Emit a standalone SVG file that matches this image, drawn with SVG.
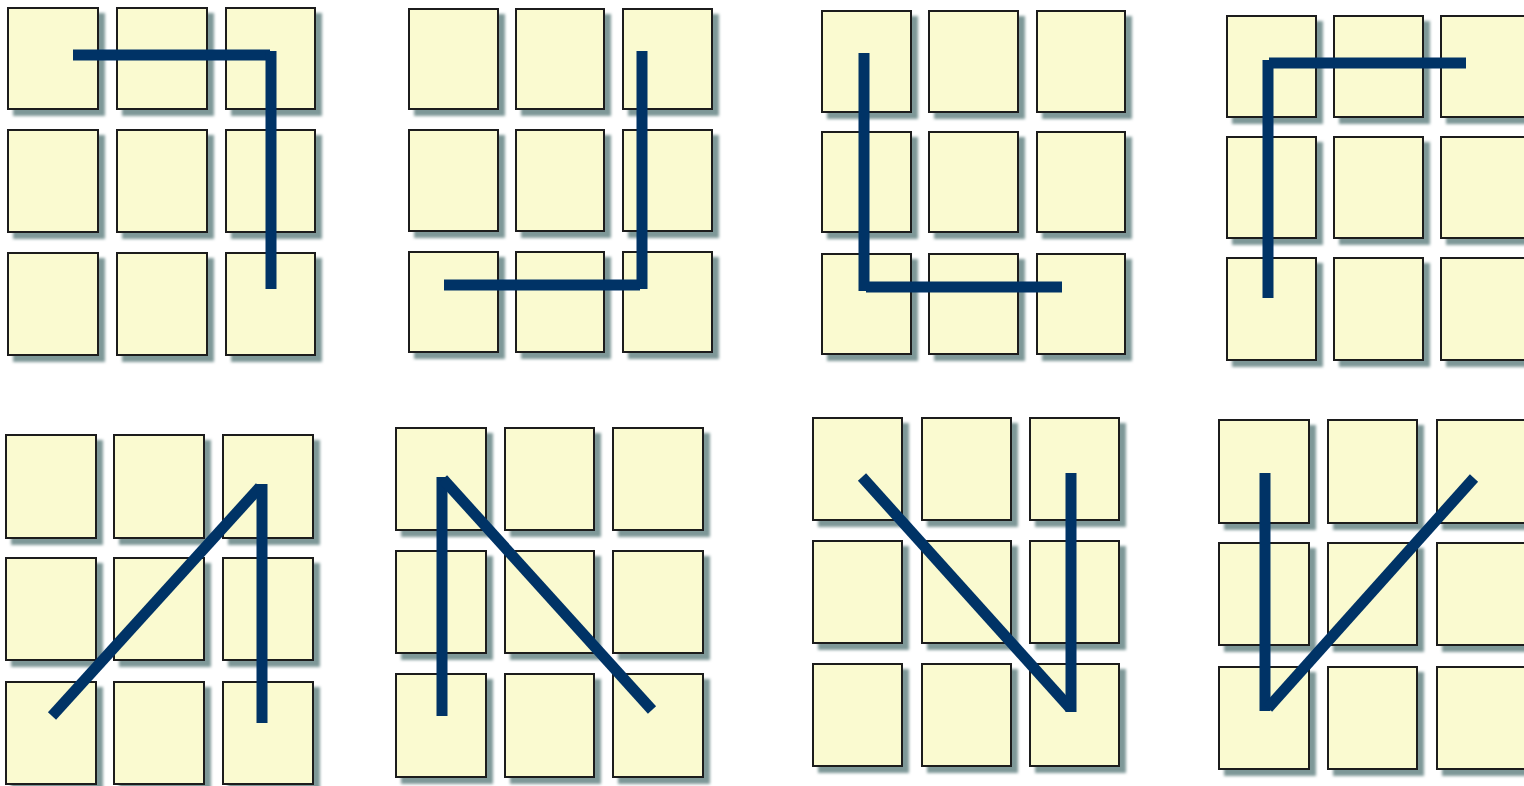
<svg xmlns="http://www.w3.org/2000/svg" width="1524" height="786" viewBox="0 0 1524 786">
<style>
.b{fill:#fafad0;stroke:#1a1a1a;stroke-width:2;filter:url(#sh)}
.p{fill:none;stroke:#003366;stroke-width:11;stroke-linecap:butt;stroke-linejoin:miter}
</style>
<defs>
<filter id="sh" x="-20%" y="-20%" width="150%" height="150%">
<feOffset in="SourceAlpha" dx="6" dy="6" result="o"/>
<feGaussianBlur in="o" stdDeviation="1.5" result="bl"/>
<feFlood flood-color="#7e9898"/>
<feComposite in2="bl" operator="in" result="s"/>
<feMerge><feMergeNode in="s"/><feMergeNode in="SourceGraphic"/></feMerge>
</filter>
</defs>
<rect width="1524" height="786" fill="#ffffff"/>
<g id="panel1">
<rect class="b" x="8" y="8" width="90" height="101"/><rect class="b" x="117" y="8" width="90" height="101"/><rect class="b" x="226" y="8" width="89" height="101"/>
<rect class="b" x="8" y="130" width="90" height="102"/><rect class="b" x="117" y="130" width="90" height="102"/><rect class="b" x="226" y="130" width="89" height="102"/>
<rect class="b" x="8" y="253" width="90" height="102"/><rect class="b" x="117" y="253" width="90" height="102"/><rect class="b" x="226" y="253" width="89" height="102"/>
</g>
<g id="panel2">
<rect class="b" x="409" y="9" width="89" height="100"/><rect class="b" x="516" y="9" width="88" height="100"/><rect class="b" x="623" y="9" width="89" height="100"/>
<rect class="b" x="409" y="130" width="89" height="101"/><rect class="b" x="516" y="130" width="88" height="101"/><rect class="b" x="623" y="130" width="89" height="101"/>
<rect class="b" x="409" y="252" width="89" height="100"/><rect class="b" x="516" y="252" width="88" height="100"/><rect class="b" x="623" y="252" width="89" height="100"/>
</g>
<g id="panel3">
<rect class="b" x="822" y="11" width="89" height="101"/><rect class="b" x="929" y="11" width="89" height="101"/><rect class="b" x="1037" y="11" width="88" height="101"/>
<rect class="b" x="822" y="132" width="89" height="100"/><rect class="b" x="929" y="132" width="89" height="100"/><rect class="b" x="1037" y="132" width="88" height="100"/>
<rect class="b" x="822" y="254" width="89" height="100"/><rect class="b" x="929" y="254" width="89" height="100"/><rect class="b" x="1037" y="254" width="88" height="100"/>
</g>
<g id="panel4">
<rect class="b" x="1227" y="16" width="89" height="101"/><rect class="b" x="1334" y="16" width="89" height="101"/><rect class="b" x="1441" y="16" width="89" height="101"/>
<rect class="b" x="1227" y="137" width="89" height="101"/><rect class="b" x="1334" y="137" width="89" height="101"/><rect class="b" x="1441" y="137" width="89" height="101"/>
<rect class="b" x="1227" y="258" width="89" height="102"/><rect class="b" x="1334" y="258" width="89" height="102"/><rect class="b" x="1441" y="258" width="89" height="102"/>
</g>
<g id="panel5">
<rect class="b" x="6" y="435" width="90" height="103"/><rect class="b" x="114" y="435" width="90" height="103"/><rect class="b" x="223" y="435" width="90" height="103"/>
<rect class="b" x="6" y="558" width="90" height="102"/><rect class="b" x="114" y="558" width="90" height="102"/><rect class="b" x="223" y="558" width="90" height="102"/>
<rect class="b" x="6" y="682" width="90" height="102"/><rect class="b" x="114" y="682" width="90" height="102"/><rect class="b" x="223" y="682" width="90" height="102"/>
</g>
<g id="panel6">
<rect class="b" x="396" y="428" width="90" height="102"/><rect class="b" x="505" y="428" width="89" height="102"/><rect class="b" x="613" y="428" width="90" height="102"/>
<rect class="b" x="396" y="551" width="90" height="102"/><rect class="b" x="505" y="551" width="89" height="102"/><rect class="b" x="613" y="551" width="90" height="102"/>
<rect class="b" x="396" y="674" width="90" height="103"/><rect class="b" x="505" y="674" width="89" height="103"/><rect class="b" x="613" y="674" width="90" height="103"/>
</g>
<g id="panel7">
<rect class="b" x="813" y="418" width="89" height="102"/><rect class="b" x="922" y="418" width="89" height="102"/><rect class="b" x="1030" y="418" width="89" height="102"/>
<rect class="b" x="813" y="541" width="89" height="102"/><rect class="b" x="922" y="541" width="89" height="102"/><rect class="b" x="1030" y="541" width="89" height="102"/>
<rect class="b" x="813" y="664" width="89" height="102"/><rect class="b" x="922" y="664" width="89" height="102"/><rect class="b" x="1030" y="664" width="89" height="102"/>
</g>
<g id="panel8">
<rect class="b" x="1219" y="420" width="90" height="103"/><rect class="b" x="1328" y="420" width="89" height="103"/><rect class="b" x="1437" y="420" width="90" height="103"/>
<rect class="b" x="1219" y="543" width="90" height="102"/><rect class="b" x="1328" y="543" width="89" height="102"/><rect class="b" x="1437" y="543" width="90" height="102"/>
<rect class="b" x="1219" y="667" width="90" height="102"/><rect class="b" x="1328" y="667" width="89" height="102"/><rect class="b" x="1437" y="667" width="90" height="102"/>
</g>
<g id="connectors">
<line class="p" x1="73" y1="55" x2="270" y2="55"/><line class="p" x1="271" y1="51" x2="271" y2="289"/>
<line class="p" x1="642" y1="51" x2="642" y2="289"/><line class="p" x1="444" y1="285" x2="640" y2="285"/>
<line class="p" x1="864" y1="53" x2="864" y2="291"/><line class="p" x1="866" y1="287" x2="1062" y2="287"/>
<line class="p" x1="1268" y1="60" x2="1268" y2="298"/><line class="p" x1="1269" y1="63" x2="1466" y2="63"/>
<line class="p" x1="52" y1="716" x2="260" y2="487"/><line class="p" x1="262" y1="484" x2="262" y2="723"/>
<line class="p" x1="442" y1="477" x2="442" y2="716"/><line class="p" x1="443" y1="479" x2="652" y2="710"/>
<line class="p" x1="862" y1="477" x2="1070" y2="708"/><line class="p" x1="1071" y1="473" x2="1071" y2="712"/>
<line class="p" x1="1265" y1="473" x2="1265" y2="711"/><line class="p" x1="1268" y1="708" x2="1474" y2="478"/>
</g>
</svg>
